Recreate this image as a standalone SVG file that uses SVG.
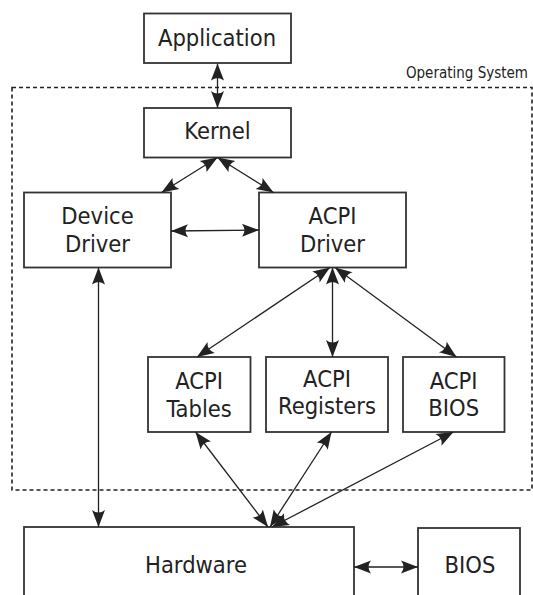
<svg xmlns="http://www.w3.org/2000/svg" width="533" height="595" viewBox="0 0 533 595">
<style>
.box{fill:#fff;stroke:#333;stroke-width:1.8}
.t{font-family:"DejaVu Sans Condensed","DejaVu Sans",sans-serif;font-stretch:condensed;font-size:23.5px;fill:#222;text-anchor:middle}
.os{font-family:"DejaVu Sans Condensed","DejaVu Sans",sans-serif;font-stretch:condensed;font-size:15px;fill:#222;text-anchor:end}
.c{fill:none;stroke:#222;stroke-width:1.3;marker-start:url(#ah);marker-end:url(#ah)}
</style>
<defs>
<marker id="ah" markerUnits="userSpaceOnUse" orient="auto-start-reverse" markerWidth="20" markerHeight="16" refX="18" refY="8" viewBox="0 0 20 16" overflow="visible">
<path d="M18,8 L1,1.5 Q6,8 1,14.5 Z" fill="#222"/>
</marker>
</defs>
<rect x="0" y="0" width="533" height="595" fill="#fff"/>
<g id="os-boundary">
<rect x="12" y="87.5" width="520" height="402.5" fill="none" stroke="#222" stroke-width="1.6" stroke-dasharray="4,3"/>
<text class="os" x="528" y="77.5">Operating System</text>
</g>
<g id="application"><rect class="box" x="144" y="13.5" width="147" height="49.5"/><text class="t" x="217" y="45.9">Application</text></g>
<g id="kernel"><rect class="box" x="144" y="108" width="147" height="49.5"/><text class="t" x="217.5" y="139.4">Kernel</text></g>
<g id="device-driver"><rect class="box" x="24" y="192.5" width="147" height="75"/><text class="t" x="97.5" y="224.2">Device</text><text class="t" x="97.5" y="252">Driver</text></g>
<g id="acpi-driver"><rect class="box" x="259" y="192.5" width="147" height="75"/><text class="t" x="332.5" y="224.2">ACPI</text><text class="t" x="332.5" y="252">Driver</text></g>
<g id="acpi-tables"><rect class="box" x="148" y="357" width="102.5" height="75"/><text class="t" x="199.2" y="388.6">ACPI</text><text class="t" x="199.2" y="416.5">Tables</text></g>
<g id="acpi-registers"><rect class="box" x="266" y="357" width="122" height="75"/><text class="t" x="327" y="386.6">ACPI</text><text class="t" x="327" y="414.1">Registers</text></g>
<g id="acpi-bios"><rect class="box" x="403" y="357" width="101.5" height="75"/><text class="t" x="453.7" y="388.6">ACPI</text><text class="t" x="453.7" y="415.5">BIOS</text></g>
<g id="hardware"><rect class="box" x="24" y="527" width="330" height="100"/><text class="t" x="196" y="572.8">Hardware</text></g>
<g id="bios"><rect class="box" x="418" y="528" width="102" height="100"/><text class="t" x="470" y="572.8">BIOS</text></g>
<g id="connectors">
<path class="c" d="M217.5,63.5 L217.5,108"/>
<path class="c" d="M217.5,157.5 L161.5,192.5"/>
<path class="c" d="M217.5,157.5 L273.5,192.5"/>
<path class="c" d="M171,231 L259,230"/>
<path class="c" d="M330,267.5 L197,357"/>
<path class="c" d="M332.5,267.5 L332.5,357"/>
<path class="c" d="M335,267.5 L456.5,357"/>
<path class="c" d="M98.5,267.5 L98.5,527"/>
<path class="c" d="M195.5,432 L268,527"/>
<path class="c" d="M331.5,432 L270,527"/>
<path class="c" d="M453.5,432 L272,527"/>
<path class="c" d="M354,567 L418,567"/>
</g>
</svg>
